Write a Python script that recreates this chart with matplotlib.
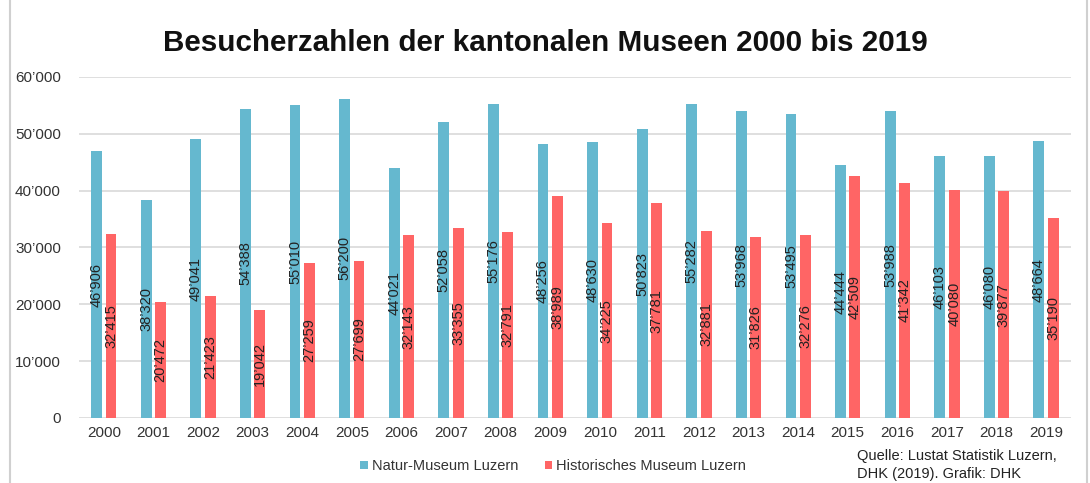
import matplotlib.pyplot as plt
from matplotlib.patches import Rectangle
import numpy as np

plt.rcParams['font.family'] = ['Liberation Sans', 'DejaVu Sans']

years = [str(y) for y in range(2000, 2020)]
natur = [46906, 38320, 49041, 54388, 55010, 56200, 44021, 52058, 55176, 48256,
         48630, 50823, 55282, 53968, 53495, 44444, 53988, 46103, 46080, 48664]
histo = [32415, 20472, 21423, 19042, 27259, 27699, 32143, 33355, 32791, 38989,
         34225, 37781, 32881, 31826, 32276, 42509, 41342, 40080, 39877, 35190]
y_ticks = [0, 10000, 20000, 30000, 40000, 50000, 60000]

blue = '#65B8CF'
red = '#FF6565'


def fmt(v):
    # Swiss thousands separator
    return '{:,}'.format(v).replace(',', '\u2019')


fig = plt.figure(figsize=(10.9, 4.83), dpi=100)
ax = fig.add_axes([0.0725, 0.1346, 0.91, 0.706])

x = np.arange(len(years))
w = 0.22
off = 0.145
b1 = ax.bar(x - off, natur, w, color=blue, label='Natur-Museum Luzern', zorder=2)
b2 = ax.bar(x + off, histo, w, color=red, label='Historisches Museum Luzern', zorder=2)

for bars, vals in ((b1, natur), (b2, histo)):
    for bar, v in zip(bars, vals):
        ax.text(bar.get_x() + bar.get_width() / 2, v / 2, fmt(v), rotation=90,
                ha='center', va='center', fontsize=10.5, color='#222222', zorder=3)

ax.set_xlim(-0.5, len(years) - 0.5)
ax.set_ylim(0, 60000)
ax.set_yticks(y_ticks)
ax.set_yticklabels([fmt(v) for v in y_ticks])
ax.set_xticks(x)
ax.set_xticklabels(years)
ax.tick_params(axis='both', length=0, labelsize=11, colors='#333333')
ax.tick_params(axis='y', pad=13)
ax.tick_params(axis='x', pad=6)
ax.grid(axis='y', color='#D9D9D9', linewidth=1.2, zorder=0)
for s in ax.spines.values():
    s.set_visible(False)

fig.text(0.5, 0.91, 'Besucherzahlen der kantonalen Museen 2000 bis 2019',
         ha='center', va='center', fontsize=21.3, fontweight='bold', color='#111111')

ax.legend(loc='center', bbox_to_anchor=(0.478, -0.141), ncol=2, frameon=False,
          fontsize=10.5, handlelength=0.5, handleheight=0.5, handletextpad=0.3,
          columnspacing=1.8, labelcolor='#333333')

fig.text(0.786, 0.037, 'Quelle: Lustat Statistik Luzern,\nDHK (2019). Grafik: DHK',
         ha='left', va='center', fontsize=10.5, color='#222222', linespacing=1.3)

fig.patches.append(Rectangle((0.009, -0.01), 0.988, 1.02, transform=fig.transFigure,
                             fill=False, edgecolor='#D0D0D0', linewidth=1.5))

fig.savefig('out.png', dpi=100)
